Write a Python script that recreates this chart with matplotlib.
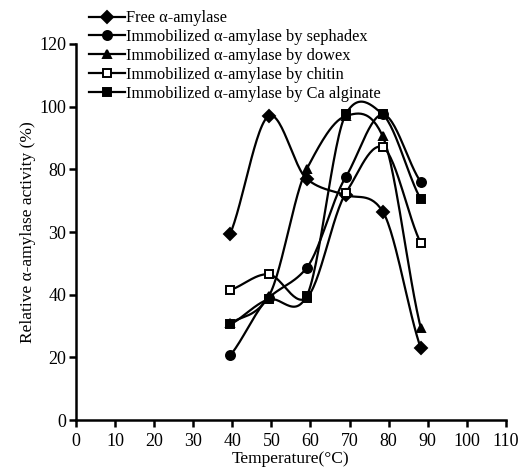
import matplotlib
matplotlib.use("Agg")
import matplotlib.pyplot as plt
import numpy as np

plt.rcParams["font.family"] = ["Liberation Serif", "DejaVu Serif"]

temperature = [39.5, 49.3, 59, 69, 78.5, 88.2]
free = [59.5, 97, 77, 71.8, 66.5, 23]
sephadex = [20.7, 39, 48.5, 77.5, 97.5, 76]
dowex = [31, 39.5, 80, 97, 90.5, 29.5]
chitin = [41.5, 46.5, 39, 72.3, 87, 56.5]
ca_alginate = [30.5, 38.5, 39.5, 97.5, 97.5, 70.5]

series_labels = [
    "Free α-amylase",
    "Immobilized α-amylase by sephadex",
    "Immobilized α-amylase by dowex",
    "Immobilized α-amylase by chitin",
    "Immobilized α-amylase by Ca alginate",
]
markers = ["D", "o", "^", "s", "s"]
x_ticks = list(range(0, 111, 10))
y_ticks = [0, 20, 40, 60, 80, 100, 120]
y_tick_labels = ["0", "20", "40", "30", "80", "100", "120"]


def smooth(x, y, n=30):
    # cubic Hermite curve through the points, for the smoothed look of the original
    x = np.asarray(x, float)
    y = np.asarray(y, float)
    m = np.gradient(y, x) * 0.8
    xs, ys = [], []
    for i in range(len(x) - 1):
        h = x[i + 1] - x[i]
        t = np.linspace(0, 1, n)
        h00 = 2 * t**3 - 3 * t**2 + 1
        h10 = t**3 - 2 * t**2 + t
        h01 = -2 * t**3 + 3 * t**2
        h11 = t**3 - t**2
        xs.append(x[i] + t * h)
        ys.append(h00 * y[i] + h10 * h * m[i] + h01 * y[i + 1] + h11 * h * m[i + 1])
    return np.concatenate(xs), np.concatenate(ys)


fig = plt.figure(figsize=(5.23, 4.73), dpi=100)
ax = fig.add_axes([0.1453, 0.112, 0.822, 0.795])

all_series = [free, sephadex, dowex, chitin, ca_alginate]
handles = []
for values, label, marker in zip(all_series, series_labels, markers):
    sx, sy = smooth(temperature, values)
    ax.plot(sx, sy, color="black", linewidth=1.6, zorder=2)
    face = "white" if label.endswith("chitin") else "black"
    size = 6.5 if marker == "o" else 6
    ax.plot(temperature, values, linestyle="none", marker=marker, markersize=size,
            markerfacecolor=face, markeredgecolor="black", markeredgewidth=1.4, zorder=3)
    h, = ax.plot([], [], color="black", linewidth=1.6, marker=marker, markersize=size,
                 markerfacecolor=face, markeredgecolor="black", markeredgewidth=1.4, label=label)
    handles.append(h)

ax.set_xlim(0, 110)
ax.set_ylim(0, 120)
ax.set_xticks(x_ticks)
ax.set_yticks(y_ticks, labels=y_tick_labels)
ax.spines["top"].set_visible(False)
ax.spines["right"].set_visible(False)
ax.spines["left"].set_linewidth(1.8)
ax.spines["bottom"].set_linewidth(1.8)
ax.tick_params(direction="out", length=5, width=1.8, labelsize=13, pad=2)
ax.tick_params(axis="x", pad=4)
ax.set_xlabel("Temperature(°C)", fontsize=12.5, labelpad=1)
ax.set_ylabel("Relative α-amylase activity (%)", fontsize=12.5, labelpad=2)

fig.legend(handles=handles, loc="upper left", bbox_to_anchor=(0.163, 0.985), frameon=False,
           fontsize=11.8, handlelength=2.2, handletextpad=0.1, labelspacing=0.17,
           borderpad=0.2, borderaxespad=0)

fig.savefig("out.png", dpi=100)
